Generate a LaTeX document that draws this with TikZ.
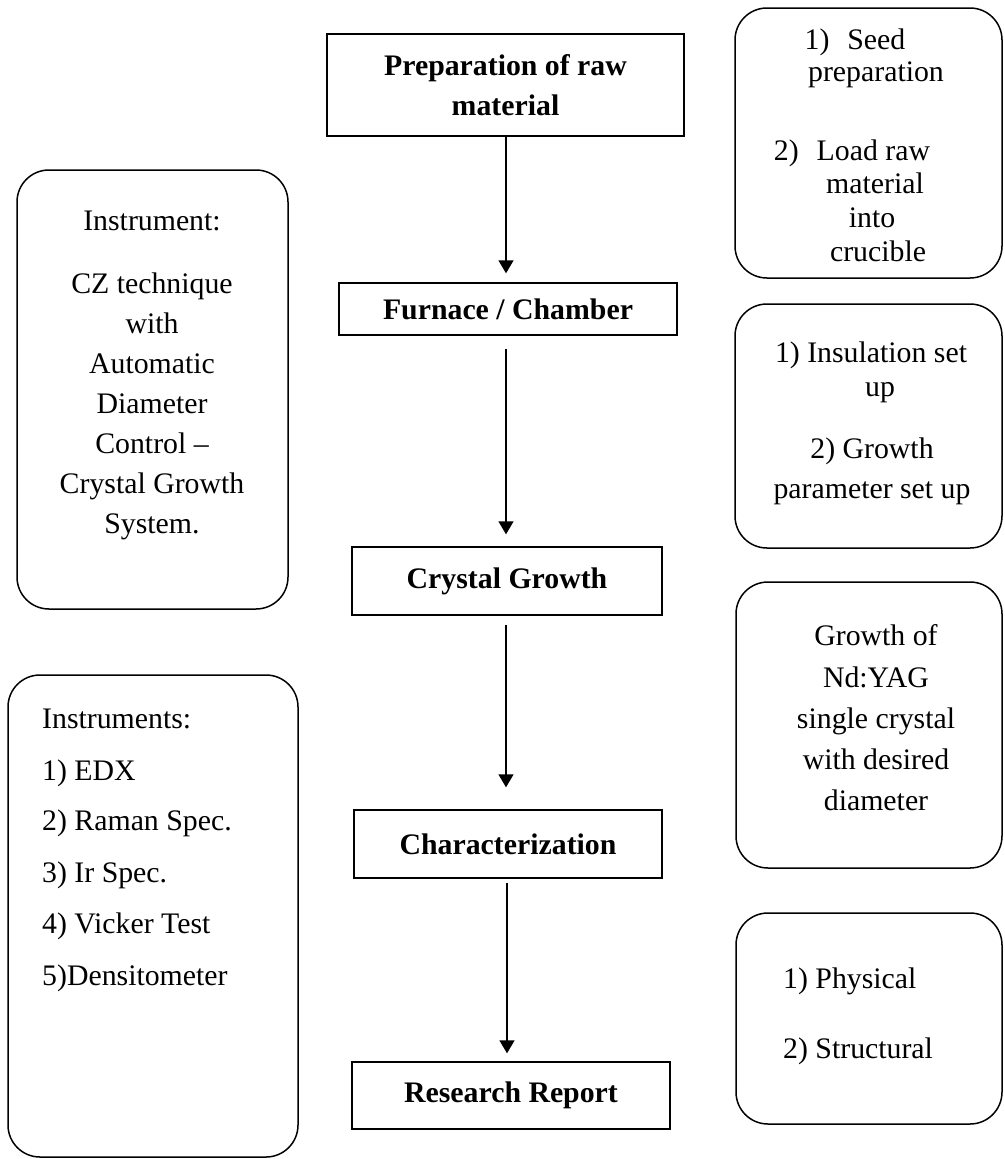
\documentclass[tikz,border=0pt]{standalone}
\usepackage{fontspec}
\setmainfont{Liberation Serif}
\usetikzlibrary{arrows.meta}
\tikzset{
  flowbox/.style={draw=black, line width=1.4pt, rectangle, inner sep=0pt, align=center,
    font=\fontsize{29.8}{40}\selectfont\bfseries},
  rbox/.style={draw=black, line width=1.5pt, rectangle, rounded corners=32pt, inner sep=0pt},
  tx/.style={anchor=base, inner sep=0pt, font=\fontsize{29.8}{34}\selectfont},
  txl/.style={anchor=base west, inner sep=0pt, font=\fontsize{29.8}{34}\selectfont},
  flowarrow/.style={line width=1.4pt, -{Triangle[width=15pt,length=13pt]}}
}
\begin{document}
\begin{tikzpicture}[x=1pt,y=-1pt]
\useasboundingbox (0,0) rectangle (1004,1159);
% centre column
\node[flowbox, minimum width=357pt, minimum height=102pt] (prep) at (505.5,85) {Preparation of raw\\material};
\node[flowbox, minimum width=338pt, minimum height=52pt] (furn) at (508,309) {Furnace / Chamber};
\node[flowbox, minimum width=310pt, minimum height=68pt] (cg) at (507,581) {Crystal Growth};
\node[flowbox, minimum width=308pt, minimum height=68pt] (char) at (508,844) {Characterization};
\node[flowbox, minimum width=318pt, minimum height=67pt] (rep) at (511,1095.5) {Research Report};
% arrows
\draw[flowarrow, shorten >=9pt] (506,0 |- prep.south) -- (506,0 |- furn.north);
\draw[flowarrow, shorten <=13pt, shorten >=12pt] (506,0 |- furn.south) -- (506,0 |- cg.north);
\draw[flowarrow, shorten <=9pt, shorten >=22pt] (506,0 |- cg.south) -- (506,0 |- char.north);
\draw[flowarrow, shorten <=4pt, shorten >=8pt] (507,0 |- char.south) -- (507,0 |- rep.north);
% right column boxes
\node[rbox, minimum width=267pt, minimum height=270pt] (r1) at (868.5,143) {};
\node[tx] (r1a) at (855,49) {1)\hspace{0.6em}Seed};
\node[tx] (r1b) at (876,81) {preparation};
\node[tx] (r1c) at (852,160) {2)\hspace{0.6em}Load raw};
\node[tx] (r1d) at (875,193) {material};
\node[tx] (r1e) at (872,227) {into};
\node[tx] (r1f) at (878,261) {crucible};

\node[rbox, minimum width=267pt, minimum height=244pt] (r2) at (868.5,426) {};
\node[tx] (r2a) at (871,362) {1) Insulation set};
\node[tx] (r2b) at (880,396) {up};
\node[tx] (r2c) at (872,458) {2) Growth};
\node[tx] (r2d) at (872,498) {parameter set up};

\node[rbox, minimum width=266pt, minimum height=286pt] (r3) at (869,725) {};
\node[tx] (r3a) at (876,645) {Growth of};
\node[tx] (r3b) at (876,687) {Nd:YAG};
\node[tx] (r3c) at (876,728) {single crystal};
\node[tx] (r3d) at (876,769) {with desired};
\node[tx] (r3e) at (876,810) {diameter};

\node[rbox, minimum width=266pt, minimum height=211pt] (r4) at (869,1018.5) {};
\node[txl] (r4a) at (783,988) {1) Physical};
\node[txl] (r4b) at (783,1058) {2) Structural};
% left column boxes
\node[rbox, minimum width=271pt, minimum height=439pt] (l1) at (152.5,389.5) {};
\node[tx] (l1a) at (152,230) {Instrument:};
\node[tx] (l1b) at (152,293) {CZ technique};
\node[tx] (l1c) at (152,333) {with};
\node[tx] (l1d) at (152,373) {Automatic};
\node[tx] (l1e) at (152,413) {Diameter};
\node[tx] (l1f) at (152,453) {Control –};
\node[tx] (l1g) at (152,493) {Crystal Growth};
\node[tx] (l1h) at (152,533) {System.};

\node[rbox, minimum width=290pt, minimum height=482pt] (l2) at (153,916) {};
\node[txl] (l2a) at (42,728) {Instruments:};
\node[txl] (l2b) at (42,780) {1) EDX};
\node[txl] (l2c) at (42,830) {2) Raman Spec.};
\node[txl] (l2d) at (42,882) {3) Ir Spec.};
\node[txl] (l2e) at (42,933) {4) Vicker Test};
\node[txl] (l2f) at (42,985) {5)Densitometer};
\end{tikzpicture}
\end{document}
